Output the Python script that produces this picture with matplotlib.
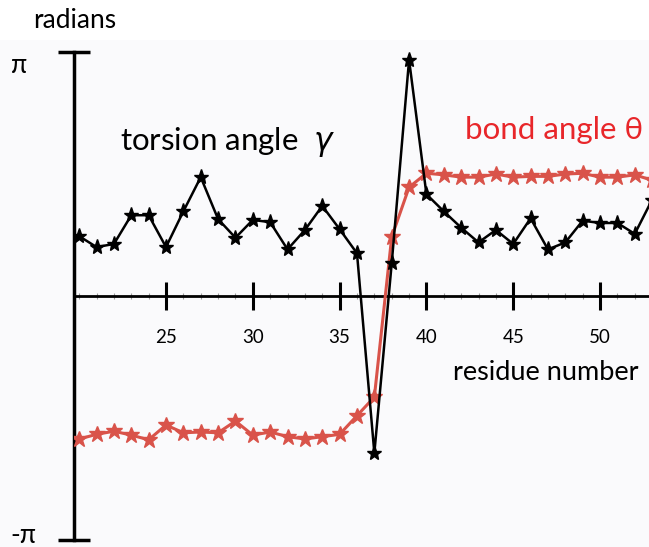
import numpy as np
import matplotlib
matplotlib.use("Agg")
import matplotlib.pyplot as plt
from matplotlib.ticker import MultipleLocator, FixedLocator

# residue numbers and angles (radians)
residues = np.arange(20, 54)
torsion_gamma = [0.77, 0.63, 0.67, 1.04, 1.04, 0.63, 1.09, 1.53, 0.99, 0.75,
                 0.98, 0.95, 0.60, 0.85, 1.16, 0.86, 0.55, -2.02, 0.42, 3.04,
                 1.31, 1.09, 0.88, 0.69, 0.85, 0.67, 1.00, 0.60, 0.69, 0.97,
                 0.94, 0.94, 0.80, 1.24]
bond_theta = [-1.84, -1.78, -1.74, -1.79, -1.85, -1.66, -1.76, -1.75, -1.76, -1.61,
              -1.79, -1.75, -1.81, -1.84, -1.81, -1.78, -1.54, -1.30, 0.76, 1.40,
              1.58, 1.56, 1.53, 1.53, 1.57, 1.53, 1.54, 1.54, 1.57, 1.58,
              1.53, 1.53, 1.56, 1.49]
x_ticks = [25, 30, 35, 40, 45, 50]

plt.rcParams["font.family"] = ["Lato", "DejaVu Sans"]

fig = plt.figure(figsize=(6.49, 5.47), dpi=100)
fig.patch.set_facecolor("white")
# light panel behind the plot, like the screenshot
fig.patches.append(plt.Rectangle((0, 0), 1, 1 - 40 / 547, transform=fig.transFigure,
                                 facecolor="#fafafc", edgecolor="none", zorder=-5))

ax = fig.add_axes([74 / 649, 0, 575 / 649, 1])
ax.set_facecolor("none")
ax.set_xlim(19.7, 52.82)
ax.set_ylim(-3.23, 3.81)

ax.plot(residues, bond_theta, color="#d9534a", lw=2.2, marker="*", ms=12,
        mec="#d9534a", mfc="#d9534a", zorder=3)
ax.plot(residues, torsion_gamma, color="black", lw=1.8, marker="*", ms=11,
        mec="black", mfc="black", zorder=4)

for side in ["top", "right"]:
    ax.spines[side].set_visible(False)
ax.spines["bottom"].set_position(("data", 0))
ax.spines["bottom"].set_linewidth(2)
ax.spines["left"].set_position(("data", 19.7))
ax.spines["left"].set_bounds(-np.pi, np.pi)
ax.spines["left"].set_linewidth(2.5)

ax.xaxis.set_major_locator(FixedLocator(x_ticks))
ax.xaxis.set_minor_locator(MultipleLocator(1))
ax.tick_params(axis="x", which="major", direction="inout", length=20, width=2.2,
               labelsize=13.5, pad=14, color="black")
ax.tick_params(axis="x", which="minor", direction="inout", length=5, width=0.8,
               color="#9a9a9a")
ax.set_yticks([-np.pi, np.pi])
ax.set_yticklabels([])
ax.tick_params(axis="y", direction="inout", length=23, width=2.5)

ax.text(-0.11, np.pi - 0.18, "π", transform=ax.get_yaxis_transform(),
        fontsize=19, ha="left", va="center")
ax.text(-0.11, -np.pi + 0.06, "-π", transform=ax.get_yaxis_transform(),
        fontsize=19, ha="left", va="center")
fig.text(33 / 649, 1 - 20 / 547, "radians", fontsize=19, ha="left", va="center")
fig.text(453 / 649, 1 - 373 / 547, "residue number", fontsize=19.5, ha="left", va="center")
fig.text(120 / 649, 1 - 142 / 547, r"torsion angle  $\gamma$", fontsize=22.5,
         ha="left", va="center")
fig.text(465 / 649, 1 - 130 / 547, "bond angle θ", fontsize=22.5, color="#e8262a",
         ha="left", va="center")

fig.savefig("out.png", dpi=100)
